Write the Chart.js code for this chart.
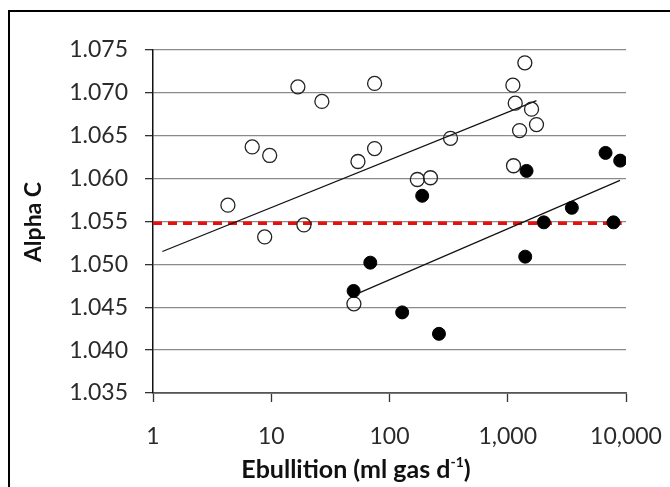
<!DOCTYPE html>
<html>
<head>
<meta charset="utf-8">
<script src="https://cdn.jsdelivr.net/npm/chart.js@4.4.1/dist/chart.umd.min.js"></script>
<style>
    html, body { margin: 0; padding: 0; background: #fff; overflow: hidden; }
    #frame { position: absolute; left: 8px; top: 10px; width: 700px; height: 520px; border: 2.5px solid #000; }
    #wrap { position: absolute; left: 0; top: 0; width: 670px; height: 487px; }
</style>
</head>
<body>
<div id="frame"></div>
<div id="wrap"><canvas id="myChart" width="670" height="487"></canvas></div>
<script>
// open circles
let openX = [4.3, 6.9, 9.7, 16.8, 26.8, 74.8, 54.1, 74.8, 172, 222, 8.8, 18.9, 50, 328, 1395, 1105, 1157, 1589, 1259, 1750, 1119];
let openY = [1.0569, 1.0637, 1.0627, 1.0707, 1.0690, 1.0711, 1.0620, 1.0635, 1.0599, 1.0601, 1.0532, 1.0546, 1.0454, 1.0647, 1.0735, 1.0709, 1.0688, 1.0681, 1.0656, 1.0663, 1.0615];
// filled circles
let filledX = [49.7, 68.8, 128, 189, 262, 1405, 1442, 2019, 3483, 6714, 7838, 8928];
let filledY = [1.0469, 1.0502, 1.0444, 1.0580, 1.0419, 1.0509, 1.0609, 1.0549, 1.0566, 1.0630, 1.0549, 1.0621];
// trend lines (end points)
let openFitX = [1.2, 1750];
let openFitY = [1.0515, 1.0691];
let filledFitX = [56, 8900];
let filledFitY = [1.0467, 1.0598];
// reference level
let refX = [1, 9200];
let refY = [1.0548, 1.0548];

let xTicks = [1, 10, 100, 1000, 10000];
let yTicks = [1.035, 1.040, 1.045, 1.050, 1.055, 1.060, 1.065, 1.070, 1.075];

let font = 'Lato, "Open Sans", sans-serif';

const toPoints = (xs, ys) => {
    let out = [];
    for (let i = 0; i < xs.length; i++) {
        out.push({ x: xs[i], y: ys[i] });
    }
    return out;
}

// axis titles, the x one needs a superscript
const axisTitles = {
    id: 'axisTitles',
    afterDraw(chart) {
        let ctx = chart.ctx;
        ctx.save();
        ctx.fillStyle = '#111';
        ctx.textBaseline = 'middle';

        ctx.save();
        ctx.translate(34, 222);
        ctx.rotate(-Math.PI / 2);
        ctx.textAlign = 'center';
        ctx.font = 'bold 23px ' + font;
        ctx.fillText('Alpha C', 0, 0);
        ctx.restore();

        let main = 'Ebullition (ml gas d';
        let sup = '-1';
        let tail = ')';
        ctx.font = 'bold 25px ' + font;
        let w1 = ctx.measureText(main).width;
        let w3 = ctx.measureText(tail).width;
        ctx.font = 'bold 14px ' + font;
        let w2 = ctx.measureText(sup).width;
        let total = w1 + w2 + w3;
        let x = 356 - total / 2;
        let y = 470;
        ctx.textAlign = 'left';
        ctx.font = 'bold 25px ' + font;
        ctx.fillText(main, x, y);
        ctx.font = 'bold 14px ' + font;
        ctx.fillText(sup, x + w1, y - 8);
        ctx.font = 'bold 25px ' + font;
        ctx.fillText(tail, x + w1 + w2, y);
        ctx.restore();
    }
}

let ctx = document.getElementById('myChart').getContext('2d');
let myChart = new Chart(ctx, {
    type: 'scatter',
    data: {
        datasets: [
            {
                data: toPoints(filledX, filledY),
                backgroundColor: '#000',
                borderColor: '#000',
                borderWidth: 1,
                pointRadius: 6.5,
                order: 0
            },
            {
                data: toPoints(openX, openY),
                backgroundColor: 'rgba(0,0,0,0)',
                borderColor: '#222',
                borderWidth: 1.3,
                pointRadius: 7,
                order: 1
            },
            {
                type: 'line',
                data: toPoints(openFitX, openFitY),
                borderColor: '#111',
                borderWidth: 1.2,
                pointRadius: 0,
                order: 2
            },
            {
                type: 'line',
                data: toPoints(filledFitX, filledFitY),
                borderColor: '#111',
                borderWidth: 1.2,
                pointRadius: 0,
                order: 2
            },
            {
                type: 'line',
                data: toPoints(refX, refY),
                borderColor: '#e8100c',
                borderWidth: 3.5,
                borderDash: [9, 6],
                pointRadius: 0,
                order: 3
            }
        ]
    },
    options: {
        responsive: false,
        animation: false,
        layout: { padding: { left: 0, right: 44, top: 50, bottom: 0 } },
        plugins: {
            legend: { display: false },
            tooltip: { enabled: false }
        },
        scales: {
            x: {
                type: 'logarithmic',
                min: 1,
                max: 10000,
                afterBuildTicks: (scale) => {
                    scale.ticks = xTicks.map(v => ({ value: v }));
                },
                afterFit: (scale) => {
                    scale.height = 94;
                    scale.paddingLeft = 0;
                    scale.paddingRight = 0;
                },
                ticks: {
                    color: '#2a2a2a',
                    font: { family: font, size: 23 },
                    padding: 21,
                    maxRotation: 0,
                    callback: (v) => Number(v).toLocaleString('en-US')
                },
                grid: {
                    drawOnChartArea: false,
                    tickLength: 9,
                    tickColor: '#333',
                    tickWidth: 1.3
                },
                border: { color: '#555', width: 1.8 }
            },
            y: {
                min: 1.035,
                max: 1.075,
                afterBuildTicks: (scale) => {
                    scale.ticks = yTicks.map(v => ({ value: v }));
                },
                afterFit: (scale) => {
                    scale.width = 153;
                    scale.paddingTop = 0;
                    scale.paddingBottom = 0;
                },
                ticks: {
                    color: '#2a2a2a',
                    font: { family: font, size: 23 },
                    padding: 17,
                    callback: (v) => Number(v).toFixed(3)
                },
                grid: {
                    color: '#8a8a8a',
                    lineWidth: 1.3,
                    tickLength: 8,
                    tickColor: '#333',
                    tickWidth: 1.3
                },
                border: { color: '#111', width: 1.5 }
            }
        }
    },
    plugins: [axisTitles]
});
</script>
</body>
</html>
